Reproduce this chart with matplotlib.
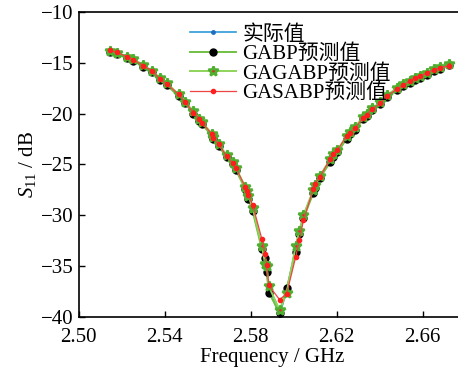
import numpy as np
import matplotlib
matplotlib.use("Agg")
import matplotlib.pyplot as plt

plt.rcParams['font.family'] = ['Liberation Serif', 'Noto Sans CJK SC']
plt.rcParams['mathtext.fontset'] = 'custom'
plt.rcParams['mathtext.it'] = 'Liberation Serif:italic'
plt.rcParams['mathtext.rm'] = 'Liberation Serif'

# frequency points (GHz)
freq = [2.5146, 2.5177, 2.5223, 2.5254, 2.5301, 2.5340, 2.5378, 2.5409, 2.5464, 2.5495,
        2.5533, 2.5561, 2.5572, 2.5619, 2.5626, 2.5650, 2.5688, 2.5716, 2.5732, 2.5774,
        2.5781, 2.5789, 2.5809, 2.5851, 2.5867, 2.5874, 2.5884, 2.5934, 2.5967, 2.6009,
        2.6026, 2.6045, 2.6091, 2.6099, 2.6122, 2.6169, 2.6184, 2.6203, 2.6246, 2.6262,
        2.6285, 2.6324, 2.6340, 2.6363, 2.6402, 2.6433, 2.6479, 2.6510, 2.6541, 2.6564,
        2.6588, 2.6619, 2.6650, 2.6681, 2.6720]

actual = [-13.9, -14.1, -14.45, -14.7, -15.3, -15.9, -16.6, -17.1, -18.2, -18.9,
          -19.9, -20.6, -20.9, -22.1, -22.4, -23.1, -24.2, -24.9, -25.5, -27.3,
          -27.7, -28.2, -29.4, -33.1, -34.0, -35.3, -37.3, -39.8, -37.4, -33.2,
          -31.6, -30.1, -27.6, -27.1, -26.2, -24.6, -24.1, -23.7, -22.3, -21.9,
          -21.4, -20.4, -20.1, -19.6, -19.0, -18.3, -17.6, -17.2, -16.9, -16.6,
          -16.4, -16.1, -15.7, -15.5, -15.2]

gabp = [-13.95, -14.15, -14.5, -14.8, -15.4, -15.95, -16.7, -17.2, -18.3, -19.0,
        -20.0, -20.7, -21.0, -22.2, -22.5, -23.2, -24.3, -25.0, -25.6, -27.4,
        -27.9, -28.4, -29.6, -33.3, -34.2, -35.6, -37.6, -39.6, -37.2, -33.6,
        -31.8, -30.3, -27.8, -27.3, -26.3, -24.8, -24.3, -23.8, -22.5, -22.0,
        -21.6, -20.5, -20.2, -19.7, -19.1, -18.4, -17.7, -17.3, -17.0, -16.7,
        -16.5, -16.2, -15.8, -15.6, -15.2]

gagabp = [-13.85, -14.05, -14.4, -14.65, -15.25, -15.8, -16.5, -17.0, -18.1, -18.85,
          -19.8, -20.5, -20.8, -22.0, -22.3, -23.0, -24.1, -24.8, -25.4, -27.2,
          -27.6, -28.1, -29.3, -33.0, -34.8, -35.0, -37.0, -39.3, -37.6, -33.0,
          -31.5, -30.0, -27.5, -27.0, -26.1, -24.5, -24.0, -23.6, -22.2, -21.8,
          -21.3, -20.3, -20.0, -19.5, -18.9, -18.2, -17.5, -17.1, -16.8, -16.5,
          -16.3, -16.0, -15.6, -15.4, -15.1]

gasabp = [-13.8, -14.0, -14.4, -14.7, -15.3, -15.8, -16.6, -17.1, -18.1, -18.9,
          -19.9, -20.5, -20.9, -22.0, -22.4, -23.0, -24.2, -24.9, -25.4, -27.2,
          -27.6, -28.0, -29.0, -32.3, -33.8, -34.9, -36.9, -38.3, -37.7, -34.1,
          -32.4, -30.5, -27.4, -26.9, -26.2, -24.5, -24.0, -23.6, -22.2, -21.9,
          -21.4, -20.4, -20.1, -19.6, -19.0, -18.3, -17.6, -17.2, -16.8, -16.5,
          -16.3, -16.0, -15.7, -15.5, -15.3]

labels = ['实际值', 'GABP预测值', 'GAGABP预测值', 'GASABP预测值']

fig = plt.figure(figsize=(4.58, 3.69), dpi=100)
ax = fig.add_axes([0.172, 0.141, 0.845, 0.827])

ax.plot(freq, actual, color='#2f9ad8', lw=1.2, marker='.', ms=5, mfc='#1f6fc0', mec='#1f6fc0', label=labels[0])
ax.plot(freq, gabp, color='#72c043', lw=1.4, marker='o', ms=5, mfc='black', mec='black', label=labels[1])
ax.plot(freq, gagabp, color='#8ed45a', lw=1.4, marker='*', ms=7, mfc='#e02a2a', mec='#4fb030', mew=1.8, label=labels[2])
ax.plot(freq, gasabp, color='#ee4444', lw=0.9, marker='.', ms=6, mfc='#ff1f1f', mec='#ff1f1f', label=labels[3])

ax.set_xlim(2.50, 2.68)
ax.set_ylim(-40, -10)
ax.set_xticks([2.50, 2.54, 2.58, 2.62, 2.66])
ax.set_xticklabels(['2.50', '2.54', '2.58', '2.62', '2.66'])
ax.set_yticks([-40, -35, -30, -25, -20, -15, -10])
ax.tick_params(direction='in', labelsize=15, length=4, width=1, top=False, right=False)
ax.tick_params(axis='x', pad=8)
ax.tick_params(axis='y', pad=4)
for s in ax.spines.values():
    s.set_linewidth(1.2)

ax.set_xlabel('Frequency / GHz', fontsize=15, labelpad=1)
ax.set_ylabel('$S_{11}$ / dB', fontsize=15, labelpad=2)

leg = ax.legend(loc='upper left', bbox_to_anchor=(0.25, 1.005), frameon=False, fontsize=15,
                handlelength=2.2, handletextpad=0.3, labelspacing=0.0, borderpad=0.2)

fig.savefig('out.png', dpi=100)
